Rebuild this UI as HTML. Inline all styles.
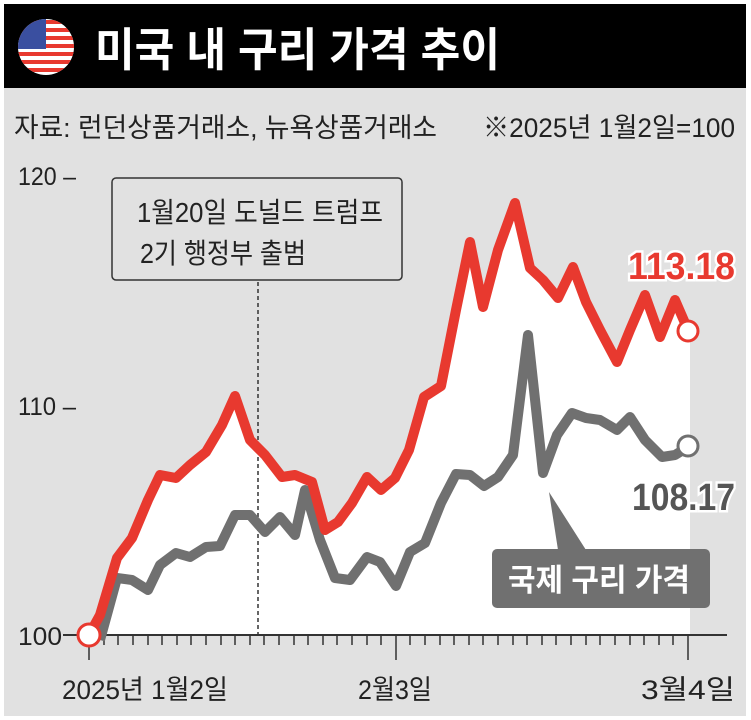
<!DOCTYPE html>
<html><head><meta charset="utf-8"><style>
body{margin:0;background:#fff;}
svg{display:block;font-family:"Liberation Sans","Noto Sans CJK KR",sans-serif;}
</style></head><body>
<svg width="751" height="720" viewBox="0 0 751 720">
<rect x="4" y="4" width="742" height="712" fill="#e1e1e1"/>
<rect x="4" y="4" width="742" height="84" fill="#000"/>
<defs><clipPath id="fc"><circle cx="46" cy="47" r="28"/></clipPath></defs>
<g clip-path="url(#fc)">
<rect x="18" y="19" width="56" height="56" fill="#fff"/>
<g fill="#e8392f"><rect x="18" y="20" width="56" height="4"/><rect x="18" y="28" width="56" height="4"/><rect x="18" y="36" width="56" height="4"/><rect x="18" y="44" width="56" height="4"/><rect x="18" y="52" width="56" height="4"/><rect x="18" y="60" width="56" height="4"/><rect x="18" y="68" width="56" height="4"/></g>
<rect x="18" y="19" width="28" height="30" fill="#3a4fa0"/>
</g>
<text x="95" y="66" fill="#fff" font-size="46" font-weight="bold" textLength="405" lengthAdjust="spacingAndGlyphs">미국 내 구리 가격 추이</text>
<text x="14" y="137" fill="#222" font-size="27" textLength="423" lengthAdjust="spacingAndGlyphs">자료: 런던상품거래소, 뉴욕상품거래소</text>
<text x="483" y="137" fill="#222" font-size="27" textLength="252" lengthAdjust="spacingAndGlyphs">※2025년 1월2일=100</text>
<g fill="#222" font-size="25">
<text x="18" y="185" textLength="58" lengthAdjust="spacingAndGlyphs">120 –</text><text x="18" y="415" textLength="58" lengthAdjust="spacingAndGlyphs">110 –</text><text x="18" y="645" textLength="44" lengthAdjust="spacingAndGlyphs">100</text>
</g>
<polygon fill="#fff" points="89,635 100,615 117,558 132,538 148,500 160,475 176,478 190,465 206,452 222,425 235,396 250,440 265,455 282,477 295,475 312,482 325,530 338,522 352,503 367,477 381,490 395,478 409,450 424,397 441,386 456,310 470,242 483,307 498,250 515,203 530,268 543,280 558,298 573,267 586,302 600,330 617,362 630,330 645,295 660,337 675,300 690,330 690,635"/>
<line x1="258" y1="282" x2="258" y2="635" stroke="#333" stroke-width="1.5" stroke-dasharray="4,3"/>
<line x1="63" y1="635" x2="727" y2="635" stroke="#333" stroke-width="2"/>
<g stroke="#333" stroke-width="1.5">
<path d="M104 635v10M118 635v10M133 635v10M148 635v10M162 635v10M177 635v10M191 635v10M206 635v10M221 635v10M235 635v10M250 635v10M264 635v10M279 635v10M294 635v10M308 635v10M323 635v10M337 635v10M352 635v10M367 635v10M381 635v10M410 635v10M425 635v10M440 635v10M454 635v10M469 635v10M483 635v10M498 635v10M513 635v10M527 635v10M542 635v10M556 635v10M571 635v10M586 635v10M600 635v10M615 635v10M630 635v10M644 635v10M659 635v10M673 635v10"/>
<path d="M89 635v25M396 635v25M688 635v25"/>
</g>
<polyline fill="none" stroke="#707070" stroke-width="10" stroke-linejoin="round" points="100,640 117,578 132,580 148,590 160,565 176,553 190,557 206,547 220,546 235,515 250,515 265,532 280,517 295,535 305,490 320,540 335,578 350,580 367,557 380,562 396,586 410,552 425,543 441,503 456,474 470,475 484,486 498,477 513,455 528,335 543,473 557,435 572,413 586,418 600,420 617,430 630,417 645,440 662,457 675,455 688,447"/>
<polyline fill="none" stroke="#e8392f" stroke-width="10" stroke-linejoin="round" points="89,635 100,615 117,558 132,538 148,500 160,475 176,478 190,465 206,452 222,425 235,396 250,440 265,455 282,477 295,475 312,482 325,530 338,522 352,503 367,477 381,490 395,478 409,450 424,397 441,386 456,310 470,242 483,307 498,250 515,203 530,268 543,280 558,298 573,267 586,302 600,330 617,362 630,330 645,295 660,337 675,300 688,330"/>
<circle cx="89" cy="635" r="11" fill="#fff" stroke="#e8392f" stroke-width="3"/>
<circle cx="688" cy="331" r="10" fill="#fff" stroke="#e8392f" stroke-width="3"/>
<circle cx="688" cy="446" r="10" fill="#fff" stroke="#707070" stroke-width="3"/>
<rect x="112" y="178" width="290" height="102" rx="4" fill="#e1e1e1" stroke="#333" stroke-width="1.5"/>
<text x="137" y="222" fill="#222" font-size="28" textLength="246" lengthAdjust="spacingAndGlyphs">1월20일 도널드 트럼프</text>
<text x="140" y="263" fill="#222" font-size="28" textLength="166" lengthAdjust="spacingAndGlyphs">2기 행정부 출범</text>
<polygon points="549,492 558,550 586,550" fill="#707070"/>
<rect x="492" y="549" width="218" height="59" rx="5" fill="#707070"/>
<text x="508" y="591" fill="#fff" font-size="31" font-weight="bold" textLength="182" lengthAdjust="spacingAndGlyphs">국제 구리 가격</text>
<text x="628" y="279" fill="#e8392f" font-size="38" font-weight="bold" stroke="#fff" stroke-width="5" paint-order="stroke" textLength="107" lengthAdjust="spacingAndGlyphs">113.18</text>
<text x="632" y="510" fill="#555" font-size="38" font-weight="bold" stroke="#fff" stroke-width="5" paint-order="stroke" textLength="103" lengthAdjust="spacingAndGlyphs">108.17</text>
<g fill="#222" font-size="27">
<text x="62" y="699" textLength="166" lengthAdjust="spacingAndGlyphs">2025년 1월2일</text>
<text x="358" y="699" textLength="74" lengthAdjust="spacingAndGlyphs">2월3일</text>
<text x="641" y="699" textLength="94" lengthAdjust="spacingAndGlyphs">3월4일</text>
</g>
</svg>
</body></html>
